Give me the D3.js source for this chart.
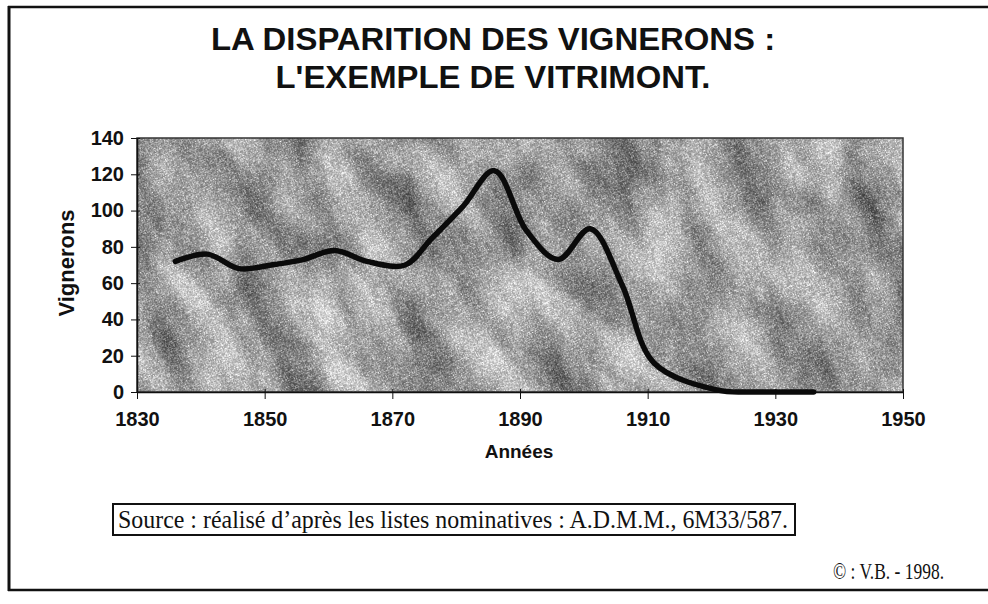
<!DOCTYPE html>
<html>
<head>
<meta charset="utf-8">
<script src="https://cdn.jsdelivr.net/npm/d3@7"></script>
<style>
  html, body { margin: 0; padding: 0; background: #fff; }
  svg { display: block; }
</style>
</head>
<body>
<svg id="chart" width="988" height="604"></svg>
<script>
// Census years and number of wine-growers in Vitrimont
const years = [1836, 1841, 1846, 1851, 1856, 1861, 1866, 1872, 1876, 1881, 1886, 1891, 1896, 1901, 1906, 1911, 1921, 1926, 1931, 1936];
const vignerons = [72, 76, 68, 70, 73, 78, 72, 70, 84, 102, 122, 89, 73, 90, 59, 16, 1, 0, 0, 0];

const xTicks = [1830, 1850, 1870, 1890, 1910, 1930, 1950];
const yTicks = [0, 20, 40, 60, 80, 100, 120, 140];

const titleLines = ["LA DISPARITION DES VIGNERONS :", "L'EXEMPLE DE VITRIMONT."];
const xTitle = "Années";
const yTitle = "Vignerons";
const sourceText = "Source : réalisé d\u2019après les listes nominatives : A.D.M.M., 6M33/587.";
const creditText = "\u00A9 : V.B. - 1998.";

const svg = d3.select("#chart");
const plot = { left: 137, top: 138, right: 903, bottom: 392 };

const x = d3.scaleLinear().domain([1830, 1950]).range([plot.left, plot.right]);
const y = d3.scaleLinear().domain([0, 140]).range([plot.bottom, plot.top]);

// Page frame
svg.append("line").attr("x1", 9).attr("x2", 9).attr("y1", 6).attr("y2", 591)
  .attr("stroke", "#111").attr("stroke-width", 3);
svg.append("line").attr("x1", 8).attr("x2", 988).attr("y1", 7).attr("y2", 7)
  .attr("stroke", "#111").attr("stroke-width", 2.5);
svg.append("line").attr("x1", 8).attr("x2", 988).attr("y1", 590).attr("y2", 590)
  .attr("stroke", "#111").attr("stroke-width", 2.5);

// Title, slightly widened
const sans = "Liberation Sans, Arial, sans-serif";
const titles = svg.append("g").selectAll("text").data(titleLines).join("text")
  .attr("x", 493).attr("y", (d, i) => 50 + i * 38)
  .attr("text-anchor", "middle")
  .attr("font-family", sans)
  .attr("font-weight", "bold").attr("font-size", 31)
  .attr("fill", "#111")
  .text(d => d);
titles.each(function () {
  const w = this.getComputedTextLength();
  d3.select(this).attr("textLength", (w * 1.06).toFixed(1)).attr("lengthAdjust", "spacingAndGlyphs");
});

// Textured plot background: soft blotches plus fine grain
const defs = svg.append("defs");
const f = defs.append("filter").attr("id", "granite")
  .attr("filterUnits", "userSpaceOnUse")
  .attr("x", -600).attr("y", -600).attr("width", 1200).attr("height", 1200)
  .attr("color-interpolation-filters", "sRGB");
f.append("feTurbulence").attr("type", "fractalNoise")
  .attr("baseFrequency", "0.011 0.022").attr("numOctaves", 3).attr("seed", 11).attr("result", "big");
f.append("feColorMatrix").attr("in", "big").attr("type", "matrix")
  .attr("values", "0.7 0 0 0 0.31  0.7 0 0 0 0.31  0.7 0 0 0 0.31  0 0 0 0 1").attr("result", "bigGray");
f.append("feTurbulence").attr("type", "turbulence")
  .attr("baseFrequency", "1.6").attr("numOctaves", 1).attr("seed", 3).attr("result", "fine");
f.append("feColorMatrix").attr("in", "fine").attr("type", "matrix")
  .attr("values", "1 0 0 0 0  1 0 0 0 0  1 0 0 0 0  0 0 0 0 1").attr("result", "fineGray");
f.append("feComposite").attr("in", "bigGray").attr("in2", "fineGray")
  .attr("operator", "arithmetic").attr("k1", 0).attr("k2", 1).attr("k3", 0.9).attr("k4", -0.19);

defs.append("clipPath").attr("id", "plotClip").append("rect")
  .attr("x", plot.left).attr("y", plot.top)
  .attr("width", plot.right - plot.left).attr("height", plot.bottom - plot.top);

const cx = (plot.left + plot.right) / 2, cy = (plot.top + plot.bottom) / 2;
svg.append("g").attr("clip-path", "url(#plotClip)")
  .append("g").attr("transform", `translate(${cx},${cy}) rotate(62)`)
  .append("rect").attr("x", -520).attr("y", -520).attr("width", 1040).attr("height", 1040)
  .attr("fill", "#999").attr("filter", "url(#granite)");

svg.append("rect")
  .attr("x", plot.left).attr("y", plot.top)
  .attr("width", plot.right - plot.left).attr("height", plot.bottom - plot.top)
  .attr("fill", "none").attr("stroke", "#333").attr("stroke-width", 1.5);

// Axes
const yAxis = svg.append("g").attr("transform", `translate(${plot.left},0)`)
  .call(d3.axisLeft(y).tickValues(yTicks).tickSize(6).tickPadding(10).tickSizeOuter(0));
yAxis.select(".domain").attr("stroke", "#111").attr("stroke-width", 1.5);
yAxis.selectAll(".tick line").attr("stroke", "#111").attr("x2", -6).attr("x1", 3);
yAxis.selectAll(".tick text").attr("font-family", sans).attr("font-weight", "bold")
  .attr("font-size", 20).attr("fill", "#111").attr("x", -13);

const xAxis = svg.append("g").attr("transform", `translate(0,${plot.bottom})`)
  .call(d3.axisBottom(x).tickValues(xTicks).tickFormat(d3.format("d")).tickSize(6).tickPadding(14).tickSizeOuter(0));
xAxis.select(".domain").attr("stroke", "#111").attr("stroke-width", 1.5);
xAxis.selectAll(".tick line").attr("stroke", "#111").attr("y1", -3).attr("y2", 7);
xAxis.selectAll(".tick text").attr("font-family", sans).attr("font-weight", "bold")
  .attr("font-size", 20).attr("fill", "#111");

svg.append("text").attr("x", 519).attr("y", 458).attr("text-anchor", "middle")
  .attr("font-family", sans).attr("font-weight", "bold").attr("font-size", 19).attr("fill", "#111")
  .text(xTitle);
svg.append("text").attr("transform", "translate(74,263) rotate(-90)").attr("text-anchor", "middle")
  .attr("font-family", sans).attr("font-weight", "bold").attr("font-size", 22).attr("fill", "#111")
  .text(yTitle);

// Smoothed series line
const line = d3.line().x((d, i) => x(years[i])).y(d => y(d)).curve(d3.curveCatmullRom.alpha(0.5));
svg.append("path").datum(vignerons)
  .attr("d", line)
  .attr("fill", "none").attr("stroke", "#0a0a0a").attr("stroke-width", 5.5)
  .attr("stroke-linecap", "round").attr("stroke-linejoin", "round");

// Source box
const serif = "Liberation Serif, Times New Roman, serif";
svg.append("rect").attr("x", 113).attr("y", 504).attr("width", 682).attr("height", 31)
  .attr("fill", "#fff").attr("stroke", "#111").attr("stroke-width", 2);
svg.append("text").attr("x", 118).attr("y", 528)
  .attr("font-family", serif).attr("font-size", 25).attr("fill", "#111")
  .attr("textLength", 670).attr("lengthAdjust", "spacingAndGlyphs")
  .text(sourceText);

svg.append("text").attr("x", 944).attr("y", 579).attr("text-anchor", "end")
  .attr("font-family", serif).attr("font-size", 24).attr("fill", "#111")
  .attr("textLength", 111).attr("lengthAdjust", "spacingAndGlyphs")
  .text(creditText);
</script>
</body>
</html>
